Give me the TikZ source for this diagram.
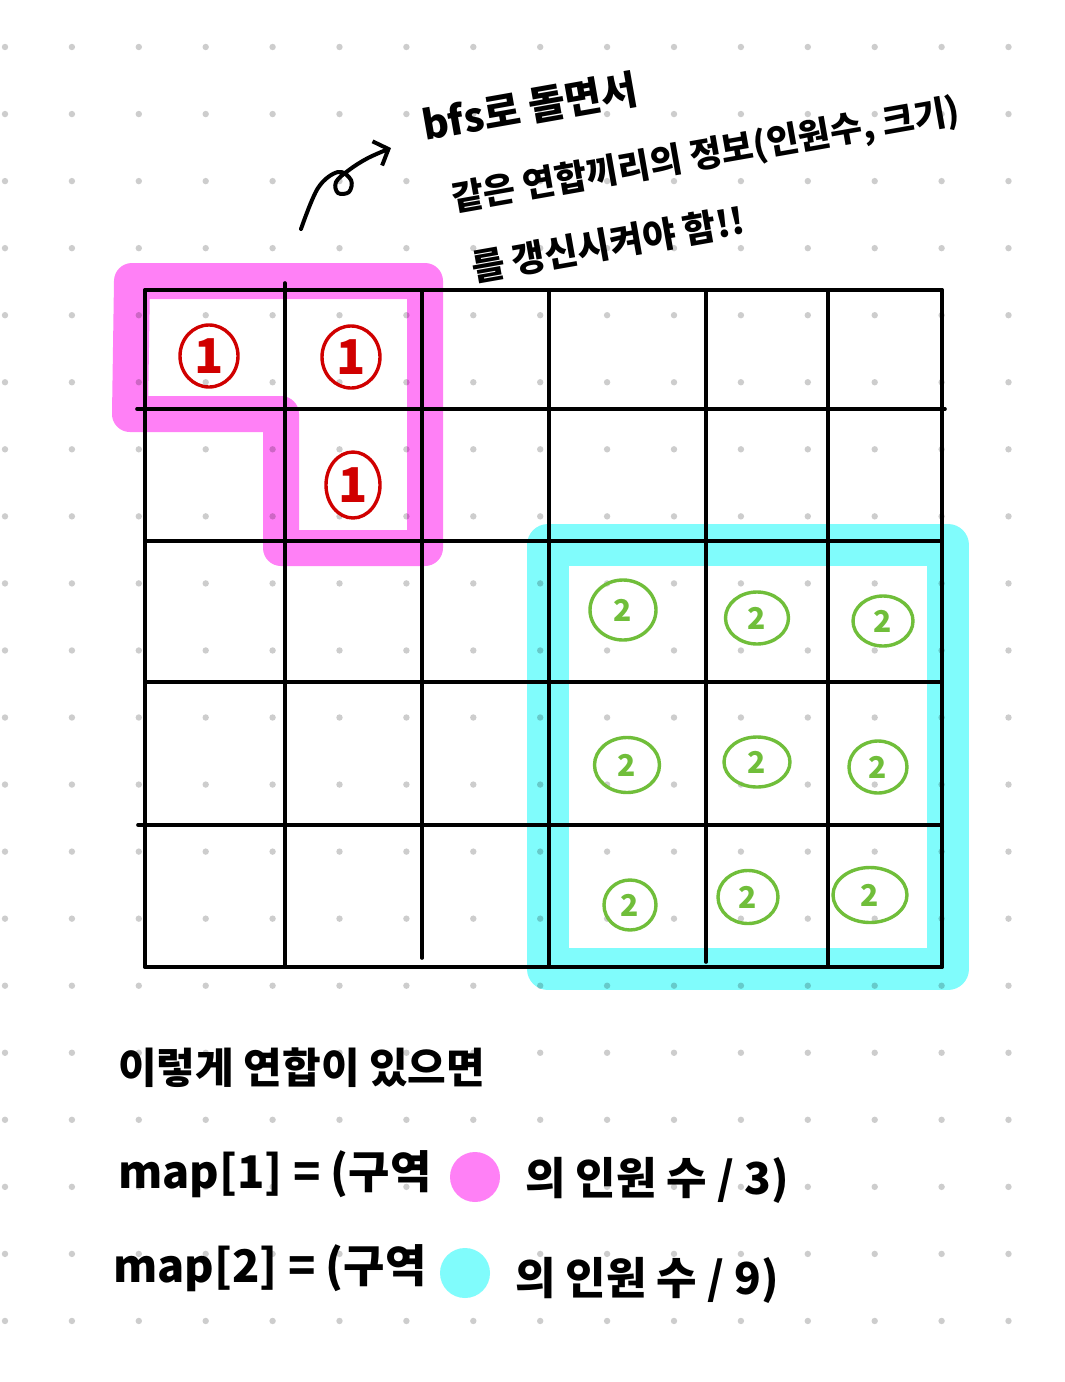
\documentclass[tikz,border=0pt]{standalone}
\usepackage{fontspec}
\newfontfamily\kr{Noto Sans CJK KR}
\usetikzlibrary{shapes.geometric,arrows.meta}
\definecolor{pinkhl}{RGB}{255,128,246}
\definecolor{cyanhl}{RGB}{128,252,252}
\definecolor{redc}{RGB}{208,0,0}
\definecolor{greenc}{RGB}{112,190,58}
\definecolor{dotc}{RGB}{205,205,205}
\begin{document}
\begin{tikzpicture}[x=1pt,y=-1pt,
  gridline/.style={line width=3.6pt,black,line cap=round},
  hl/.style={line width=36pt,line join=round,blend mode=multiply},
  onecirc/.style={ellipse,draw=redc,line width=3.4pt,text=redc,inner sep=0pt,font=\kr\bfseries\fontsize{48}{48}\selectfont},
  twocirc/.style={ellipse,draw=greenc,line width=3.4pt,text=greenc,inner sep=0pt,font=\kr\bfseries\fontsize{30}{30}\selectfont},
  hw/.style={font=\kr\bfseries\fontsize{#1}{#1}\selectfont,inner sep=0pt},
  spot/.style={circle,inner sep=0pt,minimum size=50pt}
]
\useasboundingbox (0,0) rectangle (1065,1382);
\fill[white] (0,0) rectangle (1065,1382);
% dot grid
\foreach \i in {0,...,15}
  \foreach \j in {0,...,19}
    \fill[dotc] ({5+66.9*\i},{47+67.05*\j}) circle (3.2pt);
% highlights
\draw[hl,draw=pinkhl] (132,281) -- (425,281) -- (425,548) -- (281,548) -- (281,414) -- (130,414) -- cycle;
\draw[hl,draw=cyanhl,line width=42pt] (548,545) -- (948,545) -- (948,969) -- (548,969) -- cycle;
% grid
\draw[gridline] (145,290) -- (942,290);
\draw[gridline] (137,409) -- (945,409);
\draw[gridline] (145,541) -- (942,541);
\draw[gridline] (145,682) -- (942,682);
\draw[gridline] (138,825) -- (942,825);
\draw[gridline] (145,967) -- (942,967);
\draw[gridline] (145,290) -- (145,967);
\draw[gridline] (285,283) -- (285,967);
\draw[gridline] (422,290) -- (422,958);
\draw[gridline] (549,290) -- (549,967);
\draw[gridline] (706,290) -- (706,962);
\draw[gridline] (828,290) -- (828,967);
\draw[gridline] (942,290) -- (942,967);
% circled numbers
\node[onecirc,minimum width=58pt,minimum height=62pt] (r1) at (209,356) {1};
\node[onecirc,minimum width=58pt,minimum height=62pt] (r2) at (351,357) {1};
\node[onecirc,minimum width=54pt,minimum height=66pt] (r3) at (353,485) {1};
\node[twocirc,minimum width=66pt,minimum height=60pt] (g1) at (623,610) {2};
\node[twocirc,minimum width=63pt,minimum height=52pt] (g2) at (757,618) {2};
\node[twocirc,minimum width=60pt,minimum height=50pt] (g3) at (883,621) {2};
\node[twocirc,minimum width=65pt,minimum height=55pt] (g4) at (627,765) {2};
\node[twocirc,minimum width=66pt,minimum height=50pt] (g5) at (757,762) {2};
\node[twocirc,minimum width=58pt,minimum height=52pt] (g6) at (878,767) {2};
\node[twocirc,minimum width=52pt,minimum height=50pt] (g7) at (630,905) {2};
\node[twocirc,minimum width=60pt,minimum height=53pt] (g8) at (748,897) {2};
\node[twocirc,minimum width=74pt,minimum height=55pt] (g9) at (870,895) {2};
% arrow
\coordinate (as) at (301,229);
\coordinate (ae) at (391,148);
\draw[line width=4pt,line cap=round,line join=round,-{Straight Barb[length=12pt,width=26pt]}]
  plot[smooth,tension=0.6] coordinates {(as) (318,188) (338,172) (351,180) (349,192) (338,193) (336,182) (349,170) (368,158) (ae)};
% annotation text
\node[hw=40,rotate=10] (t1) at (530,107) {bfs로 돌면서};
\node[hw=35,rotate=10] (t2) at (706,156) {같은 연합끼리의 정보(인원수, 크기)};
\node[hw=36,rotate=10] (t3) at (608,244) {를 갱신시켜야 함!!};
% bottom text
\node[hw=42,anchor=west] (b1) at (118,1068) {이렇게 연합이 있으면};
\node[hw=45,anchor=west] (m1) at (118,1174) {map[1] = (구역};
\node[spot,fill=pinkhl] (p1) at (475,1177) {};
\node[hw=44,anchor=west] (m1b) at (525,1180) {의 인원 수 / 3)};
\node[hw=45,anchor=west] (m2) at (113,1268) {map[2] = (구역};
\node[spot,fill=cyanhl] (c2) at (465,1273) {};
\node[hw=44,anchor=west] (m2b) at (515,1280) {의 인원 수 / 9)};
\end{tikzpicture}
\end{document}
